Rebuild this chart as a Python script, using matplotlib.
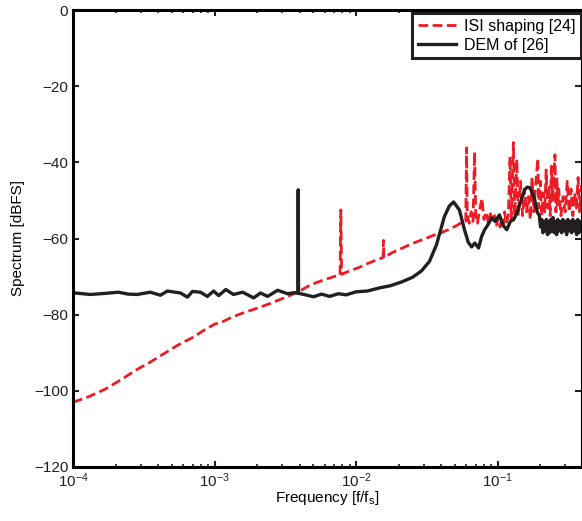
import matplotlib
matplotlib.use("Agg")
import matplotlib.pyplot as plt

plt.rcParams['font.family'] = ['Liberation Sans', 'DejaVu Sans']
plt.rcParams['mathtext.fontset'] = 'custom'
plt.rcParams['mathtext.rm'] = 'Liberation Sans'
plt.rcParams['mathtext.it'] = 'Liberation Sans:italic'

# ISI shaping [24] (red dashed), frequency in f/fs and level in dBFS
isi_freq = [1e-4, 1.3e-4, 1.7e-4, 2.2e-4, 2.8e-4, 3.5e-4, 4.5e-4, 5.5e-4, 7e-4, 8.5e-4,
            1e-3, 1.15e-3, 1.3e-3, 1.6e-3, 2e-3, 2.5e-3, 3e-3, 3.5e-3, 4e-3, 4.6e-3,
            5.3e-3, 6e-3, 7e-3, 7.7e-3, 7.8e-3, 7.9e-3, 9e-3, 1.05e-2, 1.2e-2, 1.4e-2,
            1.55e-2, 1.56e-2, 1.57e-2, 1.8e-2, 2.1e-2, 2.5e-2, 3e-2, 3.5e-2, 4e-2, 4.6e-2,
            5.2e-2, 5.7e-2, 5.95e-2, 6.03e-2, 6.1e-2, 6.3e-2, 6.5e-2, 6.7e-2, 6.87e-2, 7e-2,
            7.2e-2, 7.45e-2, 7.75e-2, 8e-2, 8.3e-2, 8.6e-2, 8.9e-2, 9.2e-2, 9.5e-2, 9.8e-2,
            0.101, 0.104, 0.107, 0.11, 0.112, 0.115, 0.119, 0.1223, 0.125, 0.1292,
            0.132, 0.1365, 0.14, 0.145, 0.15, 0.155, 0.16, 0.165, 0.17, 0.175,
            0.18, 0.185, 0.192, 0.195, 0.2, 0.205, 0.21, 0.215, 0.22, 0.225,
            0.23, 0.235, 0.24, 0.245, 0.254, 0.258, 0.262, 0.266, 0.27, 0.28,
            0.29, 0.3, 0.31, 0.32, 0.33, 0.34, 0.35, 0.36, 0.37, 0.38, 0.39]
isi_db = [-103, -101.5, -99.5, -97, -94.5, -92.5, -90, -88, -86, -84,
          -82.5, -81.8, -80.8, -79.5, -78.3, -77, -75.8, -74.8, -73.8, -72.5,
          -71.5, -70.8, -70, -69.6, -52.5, -69.4, -68.5, -67.6, -66.6, -65.6,
          -65, -60.5, -65, -63.7, -62.6, -61.3, -60.2, -59.2, -58.5, -57.5,
          -56.5, -55.5, -55.5, -36.2, -54, -56, -53, -55.5, -37.3, -54,
          -56, -52.5, -49.5, -55, -53, -56, -53.5, -55.5, -54, -56.5,
          -54.5, -57, -55, -56.5, -53, -56, -54, -38.5, -55, -34.8,
          -54, -39.2, -54, -45, -54, -47, -53, -49, -55, -44,
          -53, -47, -39, -52, -45, -54, -48, -53, -42, -52,
          -46, -54, -41, -50, -38, -53, -44, -52, -47, -54,
          -49, -53, -45, -53, -47, -54, -48, -52, -44, -53, -46]

# DEM of [26] (black solid)
dem_freq = [1.03e-4, 1.32e-4, 1.7e-4, 2.09e-4, 2.45e-4, 2.84e-4, 3.52e-4, 4.14e-4, 4.64e-4, 5.74e-4,
            6.43e-4, 6.98e-4, 7.95e-4, 8.9e-4, 9.85e-4, 1.07e-3, 1.2e-3, 1.36e-3, 1.58e-3, 1.89e-3,
            2.11e-3, 2.37e-3, 2.79e-3, 3.28e-3, 3.7e-3, 3.88e-3, 3.9e-3, 3.92e-3, 4.4e-3, 5e-3,
            5.7e-3, 6.5e-3, 7.5e-3, 8.5e-3, 1e-2, 1.2e-2, 1.45e-2, 1.75e-2, 2.1e-2, 2.5e-2,
            2.9e-2, 3.3e-2, 3.7e-2, 4.2e-2, 4.55e-2, 4.88e-2, 5.37e-2, 5.83e-2, 6.2e-2, 6.55e-2,
            6.9e-2, 7.33e-2, 7.7e-2, 8.09e-2, 8.5e-2, 9.07e-2, 9.6e-2, 0.103, 0.109, 0.116,
            0.123, 0.13, 0.136, 0.142, 0.148, 0.155, 0.162, 0.169, 0.176, 0.183,
            0.19, 0.197, 0.201, 0.205, 0.209, 0.213, 0.217, 0.221, 0.225, 0.229,
            0.233, 0.237, 0.241, 0.246, 0.251, 0.256, 0.261, 0.266, 0.271, 0.277,
            0.283, 0.289, 0.295, 0.301, 0.307, 0.313, 0.319, 0.326, 0.333, 0.34,
            0.347, 0.354, 0.361, 0.368, 0.375, 0.382, 0.39]
dem_db = [-74.3, -74.7, -74.4, -74.1, -74.6, -74.7, -74.1, -74.9, -73.8, -74.3,
          -75.4, -73.9, -74.1, -75.2, -73.8, -75.0, -73.4, -74.7, -74.1, -75.6,
          -74.3, -75.2, -73.6, -74.5, -74.2, -74.4, -47.2, -74.4, -74.8, -75.3,
          -74.6, -75.2, -74.5, -74.8, -74.0, -73.8, -73.0, -72.4, -71.4, -70.2,
          -68.5, -66, -61.6, -54.3, -51.5, -50.4, -52.5, -57.7, -61, -62.2,
          -61.2, -62.5, -59.5, -57.7, -56.5, -54.6, -55.5, -53.8, -56.5, -57.7,
          -55.5, -55, -53.5, -51.5, -49.5, -47.2, -46.5, -46.7, -48, -49.9,
          -53, -54, -57, -55, -58.5, -55.5, -58, -55, -59, -55.5,
          -58.5, -55, -58, -54.5, -58.5, -55.5, -59, -55, -58, -55.5,
          -58.5, -55, -58, -55.5, -59, -55, -58, -55.5, -58.5, -55,
          -58, -55.5, -59, -55, -58.5, -55.5, -58]

y_ticks = [0, -20, -40, -60, -80, -100, -120]

fig = plt.figure(figsize=(5.82, 5.21), dpi=100)
ax = fig.add_axes([73/582, 54/521, 508/582, 457/521])

ax.plot(isi_freq, isi_db, color='#ec1c24', lw=2.0, linestyle=(0, (3.5, 1.6)),
        label='ISI shaping [24]')
ax.plot(dem_freq, dem_db, color='#231f20', lw=2.4, label='DEM of [26]')

ax.set_xscale('log')
ax.set_xlim(1e-4, 0.388)
ax.set_ylim(-120, 0)
ax.set_yticks(y_ticks)
ax.set_xticks([1e-4, 1e-3, 1e-2, 1e-1])

ax.tick_params(which='both', direction='in', top=True, right=True, labelsize=11,
               colors='#231f20')
ax.tick_params(which='major', length=4, width=1.5)
ax.tick_params(which='minor', length=2.5, width=1.2)
for side in ['left', 'bottom', 'top']:
    ax.spines[side].set_linewidth(2.2)
ax.spines['right'].set_linewidth(0.8)

ax.set_xlabel('Frequency [f/f$_{\\mathdefault{s}}$]', fontsize=11, labelpad=-1)
ax.set_ylabel('Spectrum [dBFS]', fontsize=11, labelpad=6)

leg = ax.legend(loc='upper right', bbox_to_anchor=(1.0, 0.993), borderaxespad=0,
                fontsize=11.5, fancybox=False, framealpha=1, handlelength=2.4,
                handletextpad=0.5, labelspacing=0.25, borderpad=0.35)
leg.get_frame().set_edgecolor('#231f20')
leg.get_frame().set_linewidth(2.2)

fig.savefig('out.png', dpi=100)
